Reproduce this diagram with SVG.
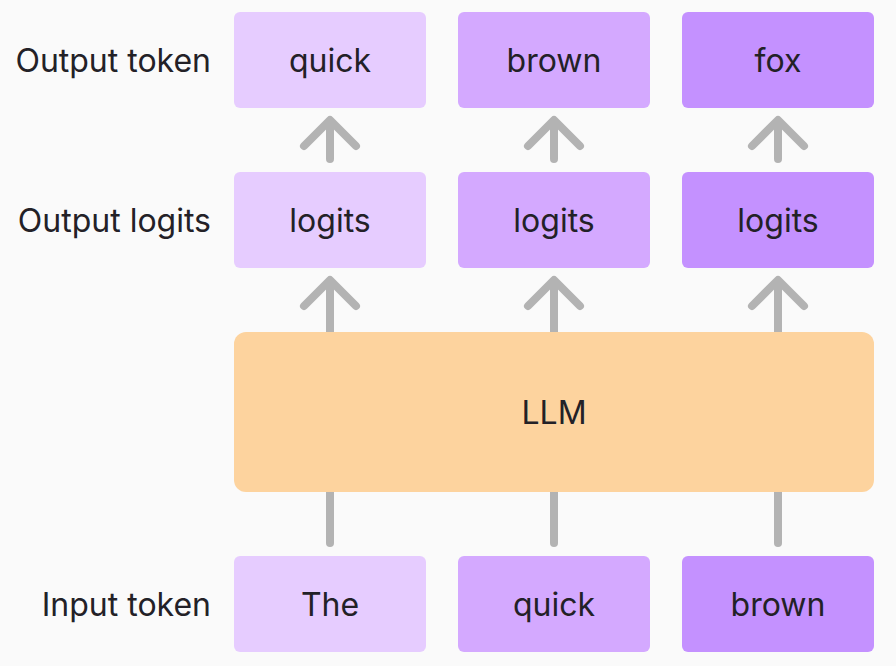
<svg xmlns="http://www.w3.org/2000/svg" width="896" height="666" viewBox="0 0 896 666">
<style>
text{font-family:Inter,"Noto Sans","Liberation Sans",sans-serif;font-size:32px;fill:#232127}
.lbl{text-anchor:end}
.c{text-anchor:middle}
.b1{fill:#E6CCFF}
.b2{fill:#D4A9FF}
.b3{fill:#C491FF}
.arr{stroke:#B3B3B3;stroke-width:8;stroke-linecap:round;stroke-linejoin:round;fill:none}
</style>
<rect width="896" height="666" fill="#FAFAFA"/>
<g id="labels">
<text class="lbl" x="211" y="72">Output token</text>
<text class="lbl" x="211" y="232">Output logits</text>
<text class="lbl" x="211" y="616">Input token</text>
</g>
<g id="connectors" class="arr">
<path d="M330 159V123M304 146L330 120L356 146"/>
<path d="M554 159V123M528 146L554 120L580 146"/>
<path d="M778 159V123M752 146L778 120L804 146"/>
<path d="M330 332V283M304 306L330 280L356 306"/>
<path d="M554 332V283M528 306L554 280L580 306"/>
<path d="M778 332V283M752 306L778 280L804 306"/>
<path d="M330 492V543"/>
<path d="M554 492V543"/>
<path d="M778 492V543"/>
</g>
<g id="out1"><rect class="b1" x="234" y="12" width="192" height="96" rx="6"/><text class="c" x="330" y="72">quick</text></g>
<g id="out2"><rect class="b2" x="458" y="12" width="192" height="96" rx="6"/><text class="c" x="554" y="72">brown</text></g>
<g id="out3"><rect class="b3" x="682" y="12" width="192" height="96" rx="6"/><text class="c" x="778" y="72">fox</text></g>
<g id="log1"><rect class="b1" x="234" y="172" width="192" height="96" rx="6"/><text class="c" x="330" y="232">logits</text></g>
<g id="log2"><rect class="b2" x="458" y="172" width="192" height="96" rx="6"/><text class="c" x="554" y="232">logits</text></g>
<g id="log3"><rect class="b3" x="682" y="172" width="192" height="96" rx="6"/><text class="c" x="778" y="232">logits</text></g>
<g id="llm"><rect x="234" y="332" width="640" height="160" rx="12" fill="#FDD39E"/><text class="c" x="554" y="424">LLM</text></g>
<g id="in1"><rect class="b1" x="234" y="556" width="192" height="96" rx="6"/><text class="c" x="330" y="616">The</text></g>
<g id="in2"><rect class="b2" x="458" y="556" width="192" height="96" rx="6"/><text class="c" x="554" y="616">quick</text></g>
<g id="in3"><rect class="b3" x="682" y="556" width="192" height="96" rx="6"/><text class="c" x="778" y="616">brown</text></g>
</svg>
